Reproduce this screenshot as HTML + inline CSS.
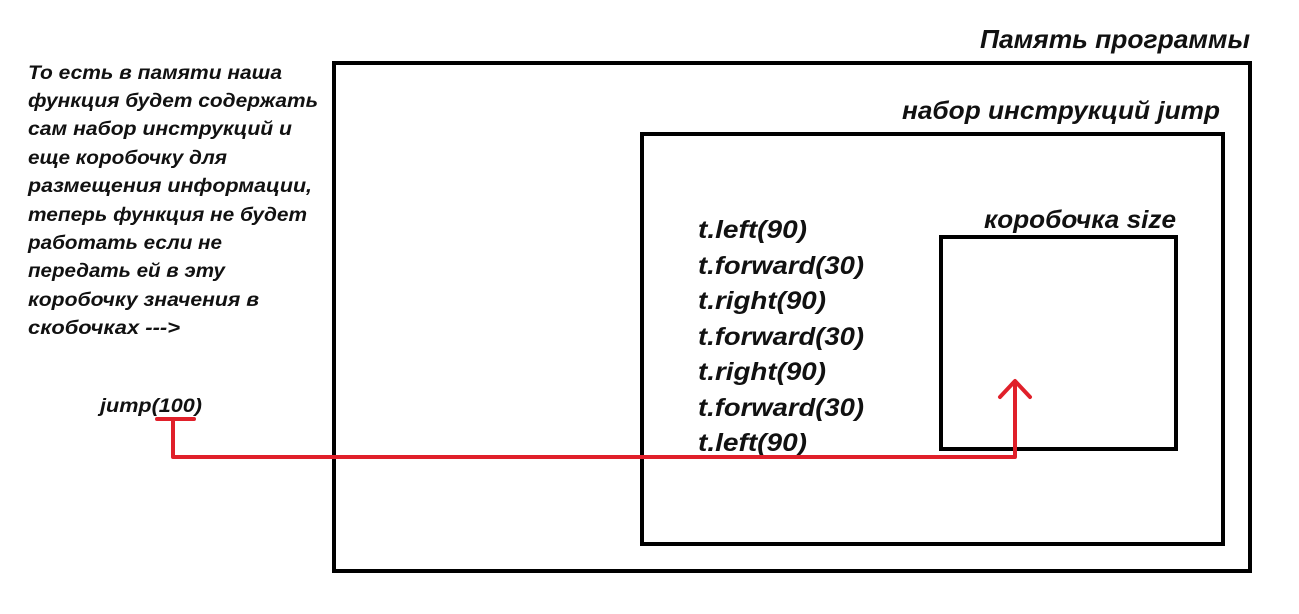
<!DOCTYPE html>
<html><head><meta charset="utf-8"><style>
html,body{margin:0;padding:0;background:#fff;}
text{font-family:"Liberation Sans","DejaVu Sans",sans-serif;font-weight:bold;font-style:italic;fill:#111;}
</style></head><body>
<svg width="1299" height="609" xmlns="http://www.w3.org/2000/svg">
<rect x="0" y="0" width="1299" height="609" fill="#fff"/>
<rect x="334" y="63" width="916" height="508" fill="none" stroke="#000" stroke-width="4"/>
<rect x="642" y="134" width="581" height="410" fill="none" stroke="#000" stroke-width="4"/>
<rect x="941" y="237" width="235" height="212" fill="none" stroke="#000" stroke-width="4"/>
<text x="980" y="48" font-size="26" textLength="270" lengthAdjust="spacingAndGlyphs">Память программы</text>
<text x="902" y="119" font-size="25" textLength="318" lengthAdjust="spacingAndGlyphs">набор инструкций jump</text>
<text x="984" y="228" font-size="25" textLength="192" lengthAdjust="spacingAndGlyphs">коробочка size</text>
<g font-size="19" lengthAdjust="spacingAndGlyphs">
<text x="28" y="79" textLength="254" lengthAdjust="spacingAndGlyphs">То есть в памяти наша</text>
<text x="28" y="107" textLength="290" lengthAdjust="spacingAndGlyphs">функция будет содержать</text>
<text x="28" y="135" textLength="264" lengthAdjust="spacingAndGlyphs">сам набор инструкций и</text>
<text x="28" y="164" textLength="199" lengthAdjust="spacingAndGlyphs">еще коробочку для</text>
<text x="28" y="192" textLength="284" lengthAdjust="spacingAndGlyphs">размещения информации,</text>
<text x="28" y="221" textLength="279" lengthAdjust="spacingAndGlyphs">теперь функция не будет</text>
<text x="28" y="249" textLength="194" lengthAdjust="spacingAndGlyphs">работать если не</text>
<text x="28" y="277" textLength="197" lengthAdjust="spacingAndGlyphs">передать ей в эту</text>
<text x="28" y="306" textLength="231" lengthAdjust="spacingAndGlyphs">коробочку значения в</text>
<text x="28" y="334" textLength="152" lengthAdjust="spacingAndGlyphs">скобочках ---&gt;</text>
</g>
<text x="100" y="412" font-size="19" textLength="102" lengthAdjust="spacingAndGlyphs">jump(100)</text>
<g font-size="25">
<text x="698" y="238" textLength="109" lengthAdjust="spacingAndGlyphs">t.left(90)</text>
<text x="698" y="274" textLength="166" lengthAdjust="spacingAndGlyphs">t.forward(30)</text>
<text x="698" y="309" textLength="128" lengthAdjust="spacingAndGlyphs">t.right(90)</text>
<text x="698" y="345" textLength="166" lengthAdjust="spacingAndGlyphs">t.forward(30)</text>
<text x="698" y="380" textLength="128" lengthAdjust="spacingAndGlyphs">t.right(90)</text>
<text x="698" y="416" textLength="166" lengthAdjust="spacingAndGlyphs">t.forward(30)</text>
<text x="698" y="451" textLength="109" lengthAdjust="spacingAndGlyphs">t.left(90)</text>
</g>
<g stroke="#e0202a" stroke-width="4" fill="none" stroke-linecap="round" stroke-linejoin="round">
<line x1="157" y1="419" x2="194" y2="419"/>
<polyline points="173,419 173,457 1015,457 1015,382"/>
<polyline points="1000,397 1015,381 1030,397"/>
</g>
</svg>
</body></html>
